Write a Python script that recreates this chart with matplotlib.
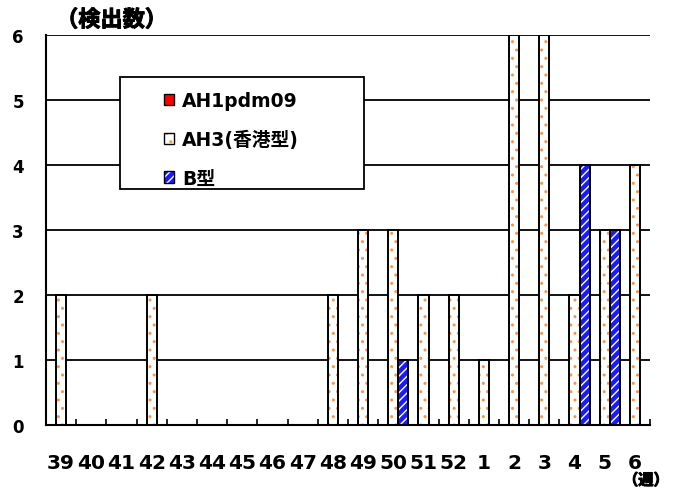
import numpy as np
import matplotlib
matplotlib.use('Agg')
import matplotlib.pyplot as plt
import matplotlib.patheffects as pe
from matplotlib.patches import Patch, Rectangle

plt.rcParams['font.family'] = ['Noto Sans CJK JP', 'DejaVu Sans']
plt.rcParams['font.weight'] = 'bold'

weeks = ['39', '40', '41', '42', '43', '44', '45', '46', '47', '48',
         '49', '50', '51', '52', '1', '2', '3', '4', '5', '6']
ah1pdm09 = [0, 0, 0, 0, 0, 0, 0, 0, 0, 0, 0, 0, 0, 0, 0, 0, 0, 0, 0, 0]
ah3 = [2, 0, 0, 2, 0, 0, 0, 0, 0, 2, 3, 3, 2, 2, 1, 6, 6, 2, 3, 4]
b_type = [0, 0, 0, 0, 0, 0, 0, 0, 0, 0, 0, 1, 0, 0, 0, 0, 0, 4, 3, 0]

x = np.arange(len(weeks))
w = 1 / 3
bold = [pe.withStroke(linewidth=0.7, foreground='black')]
latin = ['DejaVu Sans', 'Noto Sans CJK JP']

fig = plt.figure(figsize=(6.81, 4.89), dpi=100)
ax = fig.add_axes([46 / 681, 1 - 426 / 489, 604 / 681, 390 / 489])

for v in range(1, 7):
    ax.axhline(v, color='black', lw=1.3, zorder=0)

# AH1pdm09 (all zero)
ax.bar(x - w, ah1pdm09, w, color='#ff0000', edgecolor='black', lw=1.2, zorder=2)
# AH3: white with orange dots
ax.bar(x, ah3, w, color='white', edgecolor='#f79646', hatch='..', lw=0, zorder=2)
ax.bar(x, ah3, w, color='none', edgecolor='black', lw=1.4, zorder=3)
# B: blue with white stripes
ax.bar(x + w, b_type, w, color='#1a1aff', edgecolor='white', hatch='////', lw=0, zorder=2)
ax.bar(x + w, b_type, w, color='none', edgecolor='black', lw=1.4, zorder=3)

ax.set_xlim(-0.5, len(weeks) - 0.5)
ax.set_ylim(0, 6)
ax.set_yticks(range(0, 7))
ax.set_yticklabels([str(v) for v in range(0, 7)], family=latin, fontsize=12, fontweight='bold')
ax.tick_params(axis='y', length=0, pad=16)
ax.set_xticks(x)
ax.set_xticklabels(weeks, family=latin, fontsize=14.5, fontweight='bold')
ax.set_xticks(x + 0.5, minor=True)
ax.tick_params(axis='x', which='major', length=0, pad=20)
ax.tick_params(axis='x', which='minor', direction='in', length=4, width=1.2)
for s in ['top', 'right']:
    ax.spines[s].set_visible(False)
ax.spines['left'].set_linewidth(1.5)
ax.spines['bottom'].set_linewidth(1.5)

fig.text(56 / 681, 1 - 21 / 489, '（検出数）', fontsize=16, fontweight='bold', va='center',
         path_effects=bold)
fig.text(623 / 681, 1 - 481 / 489, '（週）', fontsize=11, fontweight='bold', va='center',
         path_effects=bold)

# legend frame
ax.add_patch(Rectangle((120 / 681, 1 - 190 / 489), 244 / 681, 112 / 489,
                       transform=fig.transFigure, facecolor='white',
                       edgecolor='black', lw=1.3, zorder=4, clip_on=False))
edge = dict(facecolor='none', edgecolor='black', lw=1)
handles = [
    (Patch(facecolor='#ff0000'), Patch(**edge)),
    (Patch(facecolor='white', edgecolor='#f79646', hatch='..', lw=0), Patch(**edge)),
    (Patch(facecolor='#1a1aff', edgecolor='white', hatch='////', lw=0), Patch(**edge)),
]
labels = ['AH1pdm09', 'AH3(香港型)', 'B型']
leg = ax.legend(handles, labels, loc='upper left',
                bbox_to_anchor=((164 - 46) / 604, 1 - (92 - 36) / 390),
                frameon=False, handlelength=0.55, handleheight=0.55, handletextpad=0.4,
                borderpad=0, borderaxespad=0, labelspacing=1.05,
                prop={'family': latin, 'size': 13.5, 'weight': 'bold'})
leg.set_zorder(5)

fig.savefig('out.png', dpi=100)
